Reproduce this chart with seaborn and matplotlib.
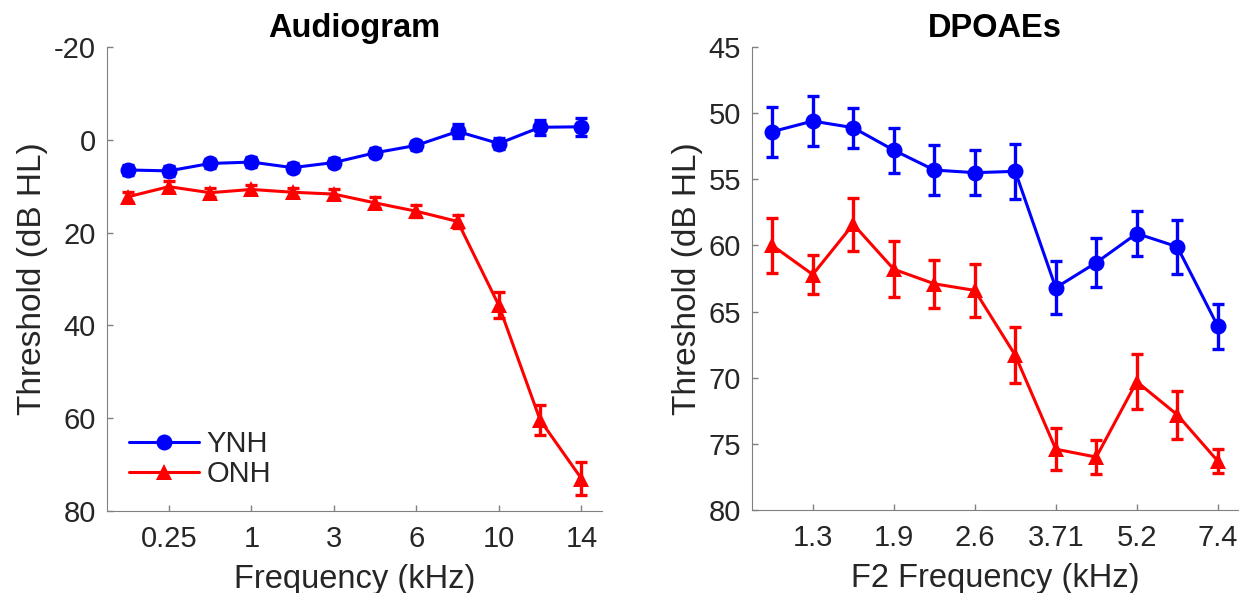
import numpy as np
import pandas as pd
import matplotlib
matplotlib.use("Agg")
import matplotlib.pyplot as plt
from matplotlib.lines import Line2D
import seaborn as sns

# Audiogram (dB HL), 12 test frequencies
aud_freqs = ["0.125", "0.25", "0.5", "1", "2", "3", "4", "6", "8", "10", "12", "14"]
aud_ynh = [6.5, 6.7, 5.1, 4.8, 6.0, 4.9, 2.8, 1.2, -1.8, 0.8, -2.7, -2.8]
aud_ynh_err = [1.0, 1.0, 1.0, 1.0, 1.0, 1.0, 1.0, 1.0, 1.5, 1.2, 1.6, 2.0]
aud_onh = [12.3, 10.1, 11.4, 10.7, 11.3, 11.7, 13.6, 15.4, 17.6, 35.7, 60.4, 73.0]
aud_onh_err = [1.0, 1.2, 1.0, 1.0, 1.0, 1.0, 1.2, 1.3, 1.5, 2.8, 3.2, 3.6]

# DPOAE thresholds, 12 F2 frequencies
dp_freqs = ["1.1", "1.3", "1.6", "1.9", "2.2", "2.6", "3.1", "3.71", "4.4", "5.2", "6.2", "7.4"]
dp_ynh = [51.4, 50.6, 51.1, 52.8, 54.3, 54.5, 54.4, 63.2, 61.3, 59.1, 60.1, 66.1]
dp_ynh_err = [1.9, 1.9, 1.5, 1.7, 1.9, 1.7, 2.1, 2.0, 1.85, 1.7, 2.05, 1.7]
dp_onh = [60.0, 62.2, 58.4, 61.8, 62.9, 63.4, 68.3, 75.4, 76.0, 70.3, 72.8, 76.3]
dp_onh_err = [2.1, 1.5, 2.0, 2.1, 1.8, 2.0, 2.1, 1.6, 1.3, 2.1, 1.8, 0.9]

groups = ["YNH", "ONH"]
colors = {"YNH": "#0000ff", "ONH": "#ff0000"}
markers = {"YNH": "o", "ONH": "^"}

sns.set_style("ticks")
plt.rcParams["font.family"] = ["Liberation Sans", "DejaVu Sans"]
plt.rcParams["axes.unicode_minus"] = False
plt.rcParams["axes.edgecolor"] = "#808080"
plt.rcParams["xtick.color"] = "#808080"
plt.rcParams["ytick.color"] = "#808080"
plt.rcParams["xtick.labelcolor"] = "#262626"
plt.rcParams["ytick.labelcolor"] = "#262626"


def make_df(freqs, ynh, ynh_err, onh, onh_err):
    n = len(freqs)
    return pd.DataFrame({
        "pos": list(range(n)) * 2,
        "freq": freqs * 2,
        "group": ["YNH"] * n + ["ONH"] * n,
        "thr": ynh + onh,
        "err": ynh_err + onh_err,
    })


def draw_panel(ax, df, freqs, title, xlabel, ylim, yticks):
    sns.lineplot(data=df, x="pos", y="thr", hue="group", style="group",
                 palette=colors, markers=markers, dashes=False, sort=False,
                 hue_order=groups, style_order=groups,
                 linewidth=2.2, markersize=11.5, markeredgewidth=0,
                 legend=False, ax=ax)
    for g in groups:
        sub = df[df["group"] == g]
        ax.errorbar(sub["pos"], sub["thr"], yerr=sub["err"], fmt="none",
                    ecolor=colors[g], elinewidth=2.4, capsize=4.5, capthick=2.4)
    ax.set_xlim(-0.5, len(freqs) - 0.5)
    ax.set_ylim(*ylim)
    ax.set_yticks(yticks)
    ax.set_xticks(range(1, len(freqs), 2))
    ax.set_xticklabels(freqs[1::2])
    ax.tick_params(direction="in", length=4, width=1, labelsize=21, pad=10)
    ax.tick_params(axis="y", pad=8)
    ax.set_title(title, fontsize=23.5, fontweight="bold", color="black", pad=7)
    ax.set_xlabel(xlabel, fontsize=23.5, color="#262626", labelpad=8)
    ax.set_ylabel("Threshold (dB HL)", fontsize=24, color="#262626", labelpad=4)
    sns.despine(ax=ax)


fig = plt.figure(figsize=(12.4, 5.93), dpi=100)
ax1 = fig.add_axes([107 / 1240, 82 / 593, 495 / 1240, 464 / 593])
ax2 = fig.add_axes([752 / 1240, 83 / 593, 486 / 1240, 463 / 593])

df_aud = make_df(aud_freqs, aud_ynh, aud_ynh_err, aud_onh, aud_onh_err)
df_dp = make_df(dp_freqs, dp_ynh, dp_ynh_err, dp_onh, dp_onh_err)

draw_panel(ax1, df_aud, aud_freqs, "Audiogram", "Frequency (kHz)",
           (80, -20), [-20, 0, 20, 40, 60, 80])
draw_panel(ax2, df_dp, dp_freqs, "DPOAEs", "F2 Frequency (kHz)",
           (80, 45), [45, 50, 55, 60, 65, 70, 75, 80])

handles = [Line2D([], [], color=colors[g], marker=markers[g], linewidth=2.2,
                  markersize=11.5, markeredgewidth=0) for g in groups]
ax1.legend(handles, groups, loc="lower left", bbox_to_anchor=(0.045, 0.05),
           frameon=False, fontsize=21, handlelength=2.4, handletextpad=0.25,
           labelspacing=0.05, borderaxespad=0, borderpad=0)

fig.savefig("out.png", dpi=100)
